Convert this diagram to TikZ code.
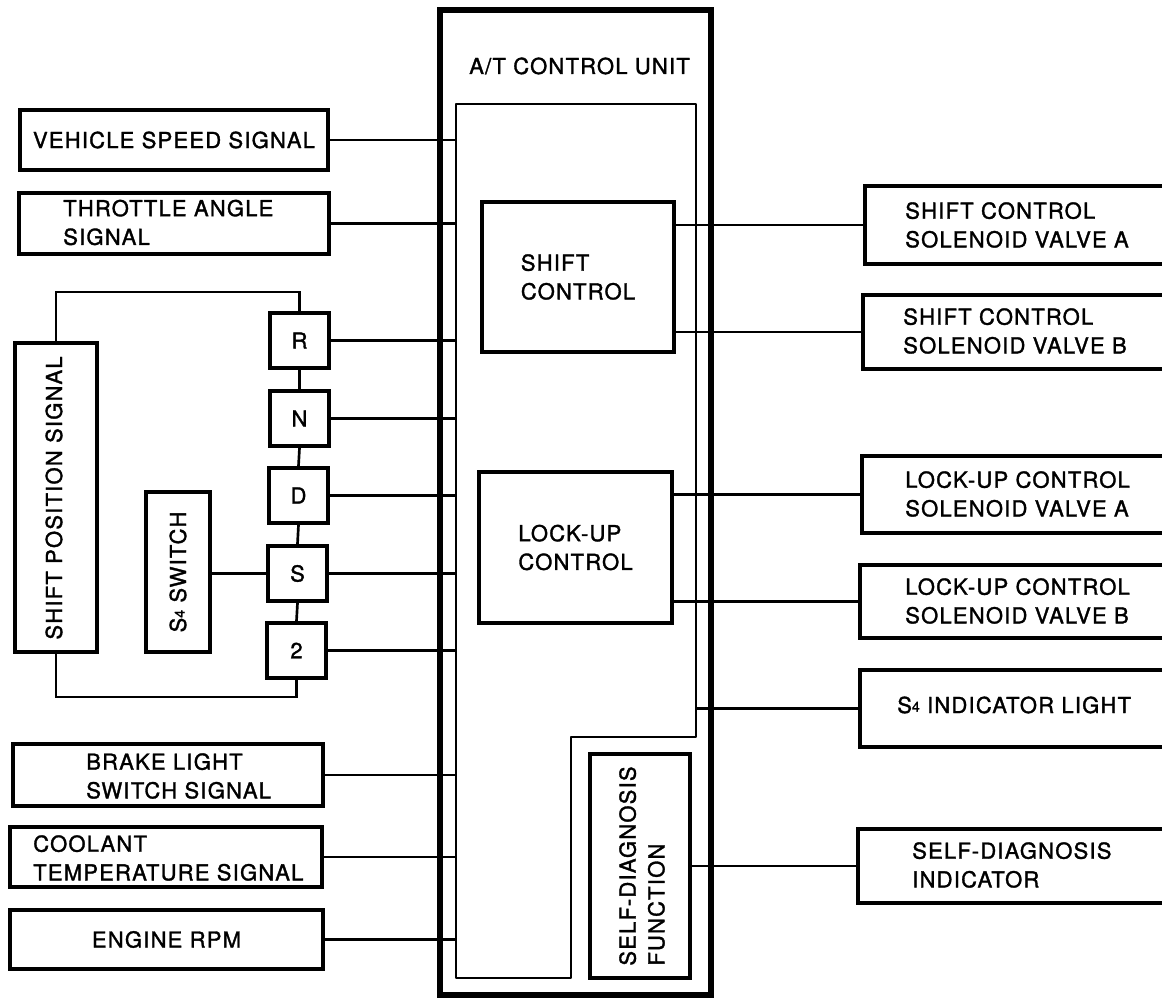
\documentclass[tikz,border=0pt]{standalone}
\usepackage{fontspec}
\setmainfont[LetterSpace=5.5,FakeBold=1.5]{TeX Gyre Heros}
\usetikzlibrary{calc}
\newcommand\sfour{S\raisebox{1pt}{\fontsize{10.5}{10.5}\selectfont 4}}
\newcommand\blk[7]{\node[#6, minimum width={(#4-#2)*0.75pt}, minimum height={(#5-#3)*0.75pt}] (#1) at ({(#2+#4)/2},{(#3+#5)/2}) {#7};}
\begin{document}
\begin{tikzpicture}[x=0.75pt,y=-0.75pt,
  every node/.style={inner sep=0pt, align=left, font=\fontsize{16.5}{21.5}\selectfont},
  box/.style={draw, line width=3pt, rectangle},
  ibox/.style={draw, line width=2.5pt, rectangle},
  outer/.style={draw, line width=3.8pt, rectangle},
  innerline/.style={line width=2pt, line join=round},
  wire/.style={line width=2pt},
  txt/.style={anchor=west},
  vtxt/.style={rotate=90, anchor=center},
]
\path[use as bounding box] (0,0) rectangle (1162,999);
\clip (0,0) rectangle (1162,999);

% A/T control unit
\blk{atcu}{440}{10}{711}{995}{outer}{}
\node[txt] (atlbl) at (469,66) {A/T CONTROL UNIT};
\draw[innerline] (456,104) -- (696,104) -- (696,737) -- (571,737) -- (571,978) -- (456,978) -- cycle;
\coordinate (inL) at (456,0);
\coordinate (inR) at (696,0);

\blk{sc}{482}{202}{674}{352}{ibox}{SHIFT\\CONTROL}
\blk{lu}{479}{472}{672}{623}{ibox}{LOCK-UP\\CONTROL}
\blk{sdf}{590}{754}{690}{978}{ibox}{}
\node[vtxt] (sdft) at (642,866) {SELF-DIAGNOSIS\\FUNCTION};

% left inputs
\blk{vs}{20}{110}{328}{170}{box}{VEHICLE SPEED SIGNAL}
\blk{ta}{19}{193}{329}{254}{box}{}
\node[txt] (tat) at (63,222.5) {THROTTLE ANGLE\\SIGNAL};
\blk{bl}{13}{744}{323}{806}{box}{}
\node[txt] (blt) at (86,776) {BRAKE LIGHT\\SWITCH SIGNAL};
\blk{ct}{10}{827}{322}{887}{box}{}
\node[txt] (ctt) at (33,858) {COOLANT\\TEMPERATURE SIGNAL};
\blk{er}{10}{910}{323}{969}{box}{ENGINE RPM}

% shift position
\blk{sps}{15}{343}{97}{652}{box}{}
\node[vtxt] (spst) at (54,498) {SHIFT POSITION SIGNAL};
\blk{s4s}{146}{492}{210}{652}{box}{}
\node[vtxt] (s4st) at (178,572) {\sfour\ SWITCH};
\blk{R}{270}{313}{329}{368}{box}{R}
\blk{N}{270}{391}{329}{446}{box}{N}
\blk{D}{269}{468}{328}{523}{box}{D}
\blk{S}{268}{546}{327}{601}{box}{S}
\blk{two}{267}{623}{326}{678}{box}{2}
\coordinate (topw) at (0,292);
\coordinate (botw) at (0,697);
\draw[wire] (sps.north) |- (topw -| R.north) -- (R.north);
\draw[wire] (sps.south) |- (botw -| two.south) -- (two.south);
\draw[wire] (R.south) -- (N.north);
\draw[wire] (N.south) -- (D.north);
\draw[wire] (D.south) -- (S.north);
\draw[wire] (S.south) -- (two.north);
\draw[wire] (S.west -| s4s.east) -- (S.west);

\foreach \n in {vs,ta,R,N,D,S,two,bl,ct,er}
  \draw[wire] (\n.east) -- (\n.east -| inL);

% right outputs
\blk{sva}{865}{186}{1200}{264}{box}{}
\node[txt] (svat) at (905,225) {SHIFT CONTROL\\SOLENOID VALVE A};
\blk{svb}{863}{295}{1200}{369}{box}{}
\node[txt] (svbt) at (903,331) {SHIFT CONTROL\\SOLENOID VALVE B};
\blk{lua}{862}{456}{1200}{533}{box}{}
\node[txt] (luat) at (905,494) {LOCK-UP CONTROL\\SOLENOID VALVE A};
\blk{lub}{860}{565}{1200}{638}{box}{}
\node[txt] (lubt) at (905,601) {LOCK-UP CONTROL\\SOLENOID VALVE B};
\blk{s4i}{860}{670}{1200}{747}{box}{}
\node[txt] (s4it) at (897,705) {\sfour\ INDICATOR LIGHT};
\blk{sdi}{858}{829}{1200}{903}{box}{}
\node[txt] (sdit) at (912,865) {SELF-DIAGNOSIS\\INDICATOR};

\draw[wire] (sva.west -| sc.east) -- (sva.west);
\draw[wire] (svb.west -| sc.east) -- (svb.west);
\draw[wire] (lua.west -| lu.east) -- (lua.west);
\draw[wire] (lub.west -| lu.east) -- (lub.west);
\draw[wire] (s4i.west -| inR) -- (s4i.west);
\draw[wire] (sdi.west -| sdf.east) -- (sdi.west);
\end{tikzpicture}
\end{document}
